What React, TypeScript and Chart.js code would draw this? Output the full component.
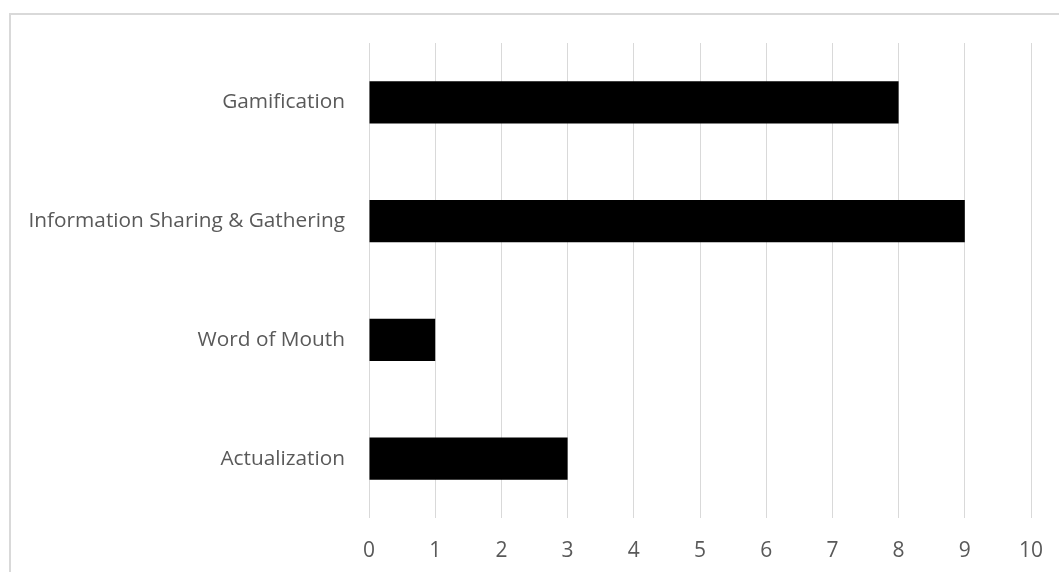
import React, { useEffect, useRef } from "react";
import { Chart, registerables } from "chart.js";

Chart.register(...registerables);

const categories = [
  "Gamification",
  "Information Sharing & Gathering",
  "Word of Mouth",
  "Actualization",
];
const counts = [8, 9, 1, 3];
const xTicks = [0, 1, 2, 3, 4, 5, 6, 7, 8, 9, 10];

const FONT = "'Open Sans', 'Liberation Sans', sans-serif";

// Light frame around the whole chart area
const framePlugin = {
  id: "frame",
  beforeDraw(chart: Chart) {
    const ctx = chart.ctx;
    ctx.save();
    ctx.strokeStyle = "#d9d9d9";
    ctx.lineWidth = 2;
    ctx.strokeRect(10, 14, chart.width + 20, chart.height + 20);
    ctx.restore();
  },
};

export default function App() {
  const canvasRef = useRef<HTMLCanvasElement | null>(null);

  useEffect(() => {
    if (!canvasRef.current) return;
    const chart = new Chart(canvasRef.current, {
      type: "bar",
      data: {
        labels: categories,
        datasets: [
          {
            data: counts,
            backgroundColor: "#000000",
            borderColor: "#000000",
            borderWidth: 0,
            categoryPercentage: 1,
            barPercentage: 0.354,
          },
        ],
      },
      options: {
        indexAxis: "y",
        animation: false,
        responsive: false,
        maintainAspectRatio: false,
        layout: { padding: { top: 43, right: 28, left: 0, bottom: 0 } },
        plugins: {
          legend: { display: false },
          tooltip: { enabled: false },
        },
        scales: {
          x: {
            min: 0,
            max: 10,
            afterBuildTicks(axis: any) {
              axis.ticks = xTicks.map((v) => ({ value: v }));
            },
            afterFit(axis: any) {
              axis.height = 54;
              axis.paddingRight = 12;
            },
            grid: {
              color: "#d9d9d9",
              lineWidth: 1,
              drawTicks: false,
            },
            border: { display: false },
            ticks: {
              color: "#595959",
              padding: 20,
              font: { family: FONT, size: 21 },
            },
          },
          y: {
            afterFit(axis: any) {
              axis.width = 369;
            },
            grid: { display: false, drawTicks: false },
            border: { display: false },
            ticks: {
              color: "#595959",
              padding: 24,
              font: { family: FONT, size: 20.8 },
            },
          },
        },
      },
      plugins: [framePlugin],
    });
    return () => chart.destroy();
  }, []);

  return (
    <div style={{ position: "absolute", left: 0, top: 0, width: 1059, height: 572, background: "#fff" }}>
      <canvas ref={canvasRef} width={1059} height={572} style={{ display: "block" }} />
    </div>
  );
}
